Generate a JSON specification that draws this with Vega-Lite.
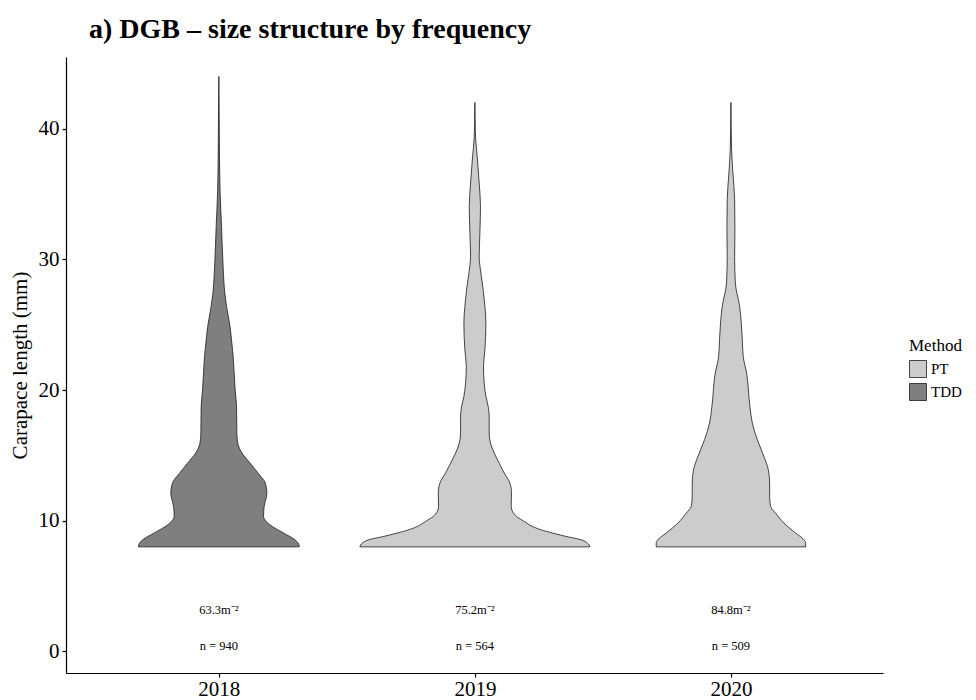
{
  "$schema": "https://vega.github.io/schema/vega-lite/v6.json",
  "width": 817,
  "height": 616,
  "autosize": "none",
  "padding": {"left": 66, "top": 57, "right": 93, "bottom": 27},
  "background": "white",
  "title": {
    "text": "a) DGB – size structure by frequency",
    "anchor": "start",
    "frame": "group",
    "font": "Liberation Serif",
    "fontSize": 28,
    "fontWeight": "bold",
    "color": "black",
    "baseline": "alphabetic",
    "dx": 23,
    "offset": -9
  },
  "datasets": {
    "violins": [
      {"year": 2018, "method": "TDD", "length": 8.0, "density": 0.3145},
      {"year": 2018, "method": "TDD", "length": 8.29, "density": 0.3098},
      {"year": 2018, "method": "TDD", "length": 8.55, "density": 0.2969},
      {"year": 2018, "method": "TDD", "length": 9.06, "density": 0.2527},
      {"year": 2018, "method": "TDD", "length": 9.7, "density": 0.1992},
      {"year": 2018, "method": "TDD", "length": 10.33, "density": 0.1746},
      {"year": 2018, "method": "TDD", "length": 11.1, "density": 0.177},
      {"year": 2018, "method": "TDD", "length": 12.1, "density": 0.1875},
      {"year": 2018, "method": "TDD", "length": 12.9, "density": 0.1809},
      {"year": 2018, "method": "TDD", "length": 13.6, "density": 0.1551},
      {"year": 2018, "method": "TDD", "length": 14.4, "density": 0.1223},
      {"year": 2018, "method": "TDD", "length": 15.2, "density": 0.0898},
      {"year": 2018, "method": "TDD", "length": 15.9, "density": 0.0742},
      {"year": 2018, "method": "TDD", "length": 16.7, "density": 0.0703},
      {"year": 2018, "method": "TDD", "length": 18.7, "density": 0.0691},
      {"year": 2018, "method": "TDD", "length": 20.0, "density": 0.0637},
      {"year": 2018, "method": "TDD", "length": 21.3, "density": 0.0598},
      {"year": 2018, "method": "TDD", "length": 22.4, "density": 0.0566},
      {"year": 2018, "method": "TDD", "length": 23.8, "density": 0.0496},
      {"year": 2018, "method": "TDD", "length": 24.8, "density": 0.0441},
      {"year": 2018, "method": "TDD", "length": 26.4, "density": 0.0301},
      {"year": 2018, "method": "TDD", "length": 27.4, "density": 0.0234},
      {"year": 2018, "method": "TDD", "length": 29.9, "density": 0.0156},
      {"year": 2018, "method": "TDD", "length": 32.5, "density": 0.0105},
      {"year": 2018, "method": "TDD", "length": 35.0, "density": 0.0051},
      {"year": 2018, "method": "TDD", "length": 37.6, "density": 0.0027},
      {"year": 2018, "method": "TDD", "length": 40.1, "density": 0.0016},
      {"year": 2018, "method": "TDD", "length": 44.0, "density": 0.0},
      {"year": 2019, "method": "PT", "length": 8.0, "density": 0.4492},
      {"year": 2019, "method": "PT", "length": 8.29, "density": 0.4398},
      {"year": 2019, "method": "PT", "length": 8.55, "density": 0.4141},
      {"year": 2019, "method": "PT", "length": 8.8, "density": 0.3555},
      {"year": 2019, "method": "PT", "length": 9.06, "density": 0.3031},
      {"year": 2019, "method": "PT", "length": 9.31, "density": 0.2578},
      {"year": 2019, "method": "PT", "length": 9.56, "density": 0.225},
      {"year": 2019, "method": "PT", "length": 9.95, "density": 0.1926},
      {"year": 2019, "method": "PT", "length": 10.33, "density": 0.1625},
      {"year": 2019, "method": "PT", "length": 10.71, "density": 0.1469},
      {"year": 2019, "method": "PT", "length": 11.09, "density": 0.1418},
      {"year": 2019, "method": "PT", "length": 12.12, "density": 0.143},
      {"year": 2019, "method": "PT", "length": 12.88, "density": 0.1367},
      {"year": 2019, "method": "PT", "length": 13.65, "density": 0.1145},
      {"year": 2019, "method": "PT", "length": 14.41, "density": 0.0949},
      {"year": 2019, "method": "PT", "length": 15.18, "density": 0.0754},
      {"year": 2019, "method": "PT", "length": 15.94, "density": 0.0609},
      {"year": 2019, "method": "PT", "length": 16.71, "density": 0.0559},
      {"year": 2019, "method": "PT", "length": 17.98, "density": 0.0559},
      {"year": 2019, "method": "PT", "length": 18.74, "density": 0.052},
      {"year": 2019, "method": "PT", "length": 19.51, "density": 0.043},
      {"year": 2019, "method": "PT", "length": 20.53, "density": 0.0363},
      {"year": 2019, "method": "PT", "length": 21.8, "density": 0.0336},
      {"year": 2019, "method": "PT", "length": 23.08, "density": 0.0391},
      {"year": 2019, "method": "PT", "length": 25.13, "density": 0.043},
      {"year": 2019, "method": "PT", "length": 26.4, "density": 0.0391},
      {"year": 2019, "method": "PT", "length": 27.67, "density": 0.0324},
      {"year": 2019, "method": "PT", "length": 28.95, "density": 0.0234},
      {"year": 2019, "method": "PT", "length": 30.22, "density": 0.0168},
      {"year": 2019, "method": "PT", "length": 32.01, "density": 0.0195},
      {"year": 2019, "method": "PT", "length": 34.05, "density": 0.0219},
      {"year": 2019, "method": "PT", "length": 35.84, "density": 0.0168},
      {"year": 2019, "method": "PT", "length": 37.87, "density": 0.009},
      {"year": 2019, "method": "PT", "length": 39.15, "density": 0.0031},
      {"year": 2019, "method": "PT", "length": 40.43, "density": 0.0012},
      {"year": 2019, "method": "PT", "length": 42.0, "density": 0.0},
      {"year": 2020, "method": "PT", "length": 8.0, "density": 0.2918},
      {"year": 2020, "method": "PT", "length": 8.29, "density": 0.2918},
      {"year": 2020, "method": "PT", "length": 8.55, "density": 0.2852},
      {"year": 2020, "method": "PT", "length": 9.06, "density": 0.2527},
      {"year": 2020, "method": "PT", "length": 9.82, "density": 0.207},
      {"year": 2020, "method": "PT", "length": 10.58, "density": 0.1746},
      {"year": 2020, "method": "PT", "length": 11.09, "density": 0.1551},
      {"year": 2020, "method": "PT", "length": 11.86, "density": 0.1512},
      {"year": 2020, "method": "PT", "length": 12.88, "density": 0.1512},
      {"year": 2020, "method": "PT", "length": 13.9, "density": 0.1461},
      {"year": 2020, "method": "PT", "length": 14.92, "density": 0.1289},
      {"year": 2020, "method": "PT", "length": 16.2, "density": 0.1031},
      {"year": 2020, "method": "PT", "length": 17.47, "density": 0.0836},
      {"year": 2020, "method": "PT", "length": 18.74, "density": 0.0742},
      {"year": 2020, "method": "PT", "length": 21.29, "density": 0.0613},
      {"year": 2020, "method": "PT", "length": 22.57, "density": 0.048},
      {"year": 2020, "method": "PT", "length": 23.84, "density": 0.0445},
      {"year": 2020, "method": "PT", "length": 25.13, "density": 0.0406},
      {"year": 2020, "method": "PT", "length": 26.4, "density": 0.034},
      {"year": 2020, "method": "PT", "length": 28.19, "density": 0.0172},
      {"year": 2020, "method": "PT", "length": 30.22, "density": 0.0145},
      {"year": 2020, "method": "PT", "length": 32.26, "density": 0.0156},
      {"year": 2020, "method": "PT", "length": 34.56, "density": 0.0145},
      {"year": 2020, "method": "PT", "length": 36.6, "density": 0.0078},
      {"year": 2020, "method": "PT", "length": 38.38, "density": 0.0027},
      {"year": 2020, "method": "PT", "length": 42.0, "density": 0.0}
    ],
    "labels": [
      {"year": 2018, "label": "63.3m⁻²", "pos": 3.15},
      {"year": 2018, "label": "n = 940", "pos": 0.45},
      {"year": 2019, "label": "75.2m⁻²", "pos": 3.15},
      {"year": 2019, "label": "n = 564", "pos": 0.45},
      {"year": 2020, "label": "84.8m⁻²", "pos": 3.15},
      {"year": 2020, "label": "n = 509", "pos": 0.45}
    ]
  },
  "layer": [
    {
      "data": {"name": "violins"},
      "transform": [
        {"calculate": "datum.year - datum.density", "as": "xlo"},
        {"calculate": "datum.year + datum.density", "as": "xhi"}
      ],
      "mark": {
        "type": "area",
        "orient": "horizontal",
        "interpolate": "monotone",
        "stroke": "#1a1a1a",
        "strokeWidth": 0.8,
        "opacity": 1
      },
      "encoding": {
        "y": {
          "field": "length",
          "type": "quantitative",
          "scale": {"domain": [-1.65, 45.48], "nice": false, "zero": false},
          "axis": {"values": [0, 10, 20, 30, 40], "title": "Carapace length (mm)"}
        },
        "x": {
          "field": "xlo",
          "type": "quantitative",
          "scale": {"domain": [2017.403, 2020.594], "nice": false, "zero": false},
          "axis": {"values": [2018, 2019, 2020], "format": "d", "title": null}
        },
        "x2": {"field": "xhi"},
        "fill": {
          "field": "method",
          "type": "nominal",
          "scale": {"domain": ["PT", "TDD"], "range": ["#cccccc", "#7f7f7f"]},
          "legend": {"title": "Method"}
        },
        "detail": {"field": "year", "type": "nominal"}
      }
    },
    {
      "data": {"name": "labels"},
      "mark": {
        "type": "text",
        "font": "Liberation Serif",
        "fontSize": 12.5,
        "baseline": "middle",
        "align": "center",
        "color": "black"
      },
      "encoding": {
        "x": {"field": "year", "type": "quantitative"},
        "y": {"field": "pos", "type": "quantitative"},
        "text": {"field": "label", "type": "nominal"}
      }
    }
  ],
  "config": {
    "view": {"stroke": null},
    "axis": {
      "grid": false,
      "domainColor": "black",
      "domainWidth": 1.2,
      "tickColor": "black",
      "tickWidth": 1.2,
      "tickSize": 4,
      "labelFont": "Liberation Serif",
      "labelFontSize": 21,
      "labelColor": "black",
      "titleFont": "Liberation Serif",
      "titleFontSize": 21,
      "titleFontWeight": "normal",
      "titleColor": "black"
    },
    "axisX": {"labelPadding": 1},
    "axisY": {"labelPadding": 3, "titlePadding": 8},
    "legend": {
      "orient": "none",
      "legendX": 843,
      "legendY": 281,
      "titleFont": "Liberation Serif",
      "titleFontSize": 17,
      "titleFontWeight": "normal",
      "titleColor": "black",
      "titlePadding": 5,
      "labelFont": "Liberation Serif",
      "labelFontSize": 15,
      "labelColor": "black",
      "symbolType": "square",
      "symbolSize": 289,
      "symbolStrokeColor": "#1a1a1a",
      "symbolStrokeWidth": 0.8,
      "symbolOpacity": 1,
      "rowPadding": 1,
      "labelOffset": 4
    }
  }
}
